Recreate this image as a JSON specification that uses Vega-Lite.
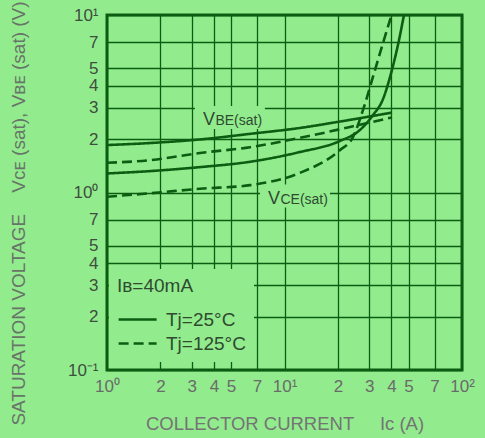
{
  "$schema": "https://vega.github.io/schema/vega-lite/v6.json",
  "width": 355,
  "height": 355,
  "autosize": {"type": "none"},
  "padding": {"left": 107, "top": 15, "right": 23, "bottom": 68},
  "background": "#92ec8e",
  "config": {
    "font": "Liberation Sans",
    "view": {"stroke": "#0c5c12", "strokeWidth": 3}
  },
  "datasets": {
    "curves": [
      {"series": "VBE 25", "Tj": "Tj=25°C", "Ic": 1, "V": 1.85},
      {"series": "VBE 25", "Tj": "Tj=25°C", "Ic": 1.75, "V": 1.9},
      {"series": "VBE 25", "Tj": "Tj=25°C", "Ic": 3.34, "V": 1.99},
      {"series": "VBE 25", "Tj": "Tj=25°C", "Ic": 6.4, "V": 2.14},
      {"series": "VBE 25", "Tj": "Tj=25°C", "Ic": 12.2, "V": 2.31},
      {"series": "VBE 25", "Tj": "Tj=25°C", "Ic": 20.5, "V": 2.51},
      {"series": "VBE 25", "Tj": "Tj=25°C", "Ic": 40.3, "V": 2.82},
      {"series": "VBE 125", "Tj": "Tj=125°C", "Ic": 1, "V": 1.47},
      {"series": "VBE 125", "Tj": "Tj=125°C", "Ic": 1.75, "V": 1.52},
      {"series": "VBE 125", "Tj": "Tj=125°C", "Ic": 3.34, "V": 1.67},
      {"series": "VBE 125", "Tj": "Tj=125°C", "Ic": 6.4, "V": 1.8},
      {"series": "VBE 125", "Tj": "Tj=125°C", "Ic": 12.2, "V": 2.03},
      {"series": "VBE 125", "Tj": "Tj=125°C", "Ic": 23.4, "V": 2.34},
      {"series": "VBE 125", "Tj": "Tj=125°C", "Ic": 40.3, "V": 2.65},
      {"series": "VCE 25", "Tj": "Tj=25°C", "Ic": 1, "V": 1.28},
      {"series": "VCE 25", "Tj": "Tj=25°C", "Ic": 1.75, "V": 1.32},
      {"series": "VCE 25", "Tj": "Tj=25°C", "Ic": 3.34, "V": 1.39},
      {"series": "VCE 25", "Tj": "Tj=25°C", "Ic": 6.4, "V": 1.49},
      {"series": "VCE 25", "Tj": "Tj=25°C", "Ic": 12.2, "V": 1.69},
      {"series": "VCE 25", "Tj": "Tj=25°C", "Ic": 20.5, "V": 1.95},
      {"series": "VCE 25", "Tj": "Tj=25°C", "Ic": 26.6, "V": 2.25},
      {"series": "VCE 25", "Tj": "Tj=25°C", "Ic": 31.5, "V": 2.73},
      {"series": "VCE 25", "Tj": "Tj=25°C", "Ic": 35.7, "V": 3.32},
      {"series": "VCE 25", "Tj": "Tj=25°C", "Ic": 40.3, "V": 4.9},
      {"series": "VCE 25", "Tj": "Tj=25°C", "Ic": 43.8, "V": 6.95},
      {"series": "VCE 25", "Tj": "Tj=25°C", "Ic": 47.1, "V": 10},
      {"series": "VCE 125", "Tj": "Tj=125°C", "Ic": 1, "V": 0.947},
      {"series": "VCE 125", "Tj": "Tj=125°C", "Ic": 1.75, "V": 0.99},
      {"series": "VCE 125", "Tj": "Tj=125°C", "Ic": 3.34, "V": 1.05},
      {"series": "VCE 125", "Tj": "Tj=125°C", "Ic": 6.4, "V": 1.1},
      {"series": "VCE 125", "Tj": "Tj=125°C", "Ic": 12.2, "V": 1.29},
      {"series": "VCE 125", "Tj": "Tj=125°C", "Ic": 20.5, "V": 1.73},
      {"series": "VCE 125", "Tj": "Tj=125°C", "Ic": 24.3, "V": 2.05},
      {"series": "VCE 125", "Tj": "Tj=125°C", "Ic": 27.7, "V": 2.92},
      {"series": "VCE 125", "Tj": "Tj=125°C", "Ic": 31.5, "V": 4.48},
      {"series": "VCE 125", "Tj": "Tj=125°C", "Ic": 35.9, "V": 6.96},
      {"series": "VCE 125", "Tj": "Tj=125°C", "Ic": 40.1, "V": 10}
    ],
    "labels": [
      {"Ic": 3.47, "V": 2.4, "main": "V", "sub": "BE(sat)"},
      {"Ic": 8.07, "V": 0.867, "main": "V", "sub": "CE(sat)"}
    ]
  },
  "encoding": {
    "x": {
      "field": "Ic",
      "type": "quantitative",
      "scale": {"type": "log", "domain": [1, 100], "nice": false},
      "axis": {
        "values": [1, 2, 3, 4, 5, 7, 10, 20, 30, 40, 50, 70, 100],
        "labelExpr": "datum.value == 1 ? '10\u2070' : datum.value == 10 ? '10\u00b9' : datum.value == 100 ? '10\u00b2' : format(datum.value >= 10 ? datum.value / 10 : datum.value, 'd')",
        "grid": true,
        "gridColor": "#0c5c12",
        "gridWidth": 1.3,
        "gridOpacity": 1,
        "ticks": false,
        "domain": false,
        "labelFontSize": 17,
        "labelColor": "#6a6a6a",
        "labelPadding": 8,
        "labelOverlap": false,
        "labelFlush": false,
        "labelBound": false,
        "title": "COLLECTOR CURRENT\u00a0\u00a0\u00a0\u00a0 I\u1d04 (A)",
        "titleFontSize": 18.5,
        "titleFontWeight": "normal",
        "titleColor": "#747474",
        "titleY": 53,
        "titleBaseline": "middle"
      }
    },
    "y": {
      "field": "V",
      "type": "quantitative",
      "scale": {"type": "log", "domain": [0.1, 10], "nice": false},
      "axis": {
        "values": [0.1, 0.2, 0.3, 0.4, 0.5, 0.7, 1, 2, 3, 4, 5, 7, 10],
        "labelExpr": "datum.value == 0.1 ? '10\u207b\u00b9' : datum.value == 1 ? '10\u2070' : datum.value == 10 ? '10\u00b9' : format(datum.value < 1 ? datum.value * 10 : datum.value, 'd')",
        "grid": true,
        "gridColor": "#0c5c12",
        "gridWidth": 1.3,
        "gridOpacity": 1,
        "ticks": false,
        "domain": false,
        "labelFontSize": 17,
        "labelColor": "#3e4e3e",
        "labelPadding": 9,
        "labelOverlap": false,
        "labelFlush": false,
        "labelBound": false,
        "title": "SATURATION VOLTAGE\u00a0\u00a0\u00a0 V\u1d04\u1d07 (sat), V\u0299\u1d07 (sat) (V)",
        "titleFontSize": 19,
        "titleFontWeight": "normal",
        "titleColor": "#687468",
        "titleX": -89,
        "titleY": 198,
        "titleAlign": "center",
        "titleBaseline": "middle"
      }
    }
  },
  "layer": [
    {
      "data": {"name": "labels"},
      "mark": {"type": "point", "shape": "M-0.8,-1.9H6.2V0.4H-0.8Z", "size": 400, "filled": true, "color": "#92ec8e", "opacity": 1, "strokeWidth": 0}
    },
    {
      "data": {"name": "curves"},
      "mark": {"type": "line", "interpolate": "monotone", "color": "#0c5c12", "strokeWidth": 2.6},
      "encoding": {
        "detail": {"field": "series", "type": "nominal"},
        "strokeDash": {
          "field": "Tj",
          "type": "nominal",
          "scale": {"domain": ["Tj=25°C", "Tj=125°C"], "range": [[1, 0], [10, 5]]},
          "legend": {
            "orient": "none",
            "legendX": 2,
            "legendY": 254,
            "title": "I\u0299=40mA",
            "titleFontSize": 19,
            "titleFontWeight": "normal",
            "titleColor": "#2f4a2f",
            "titlePadding": 10,
            "labelFontSize": 19,
            "labelColor": "#2f4a2f",
            "symbolType": "M-1,0H2.2",
            "symbolSize": 564,
            "symbolStrokeWidth": 2.6,
            "symbolStrokeColor": "#0c5c12",
            "symbolFillColor": "transparent",
            "labelOffset": 22,
            "rowPadding": 0,
            "padding": 8,
            "fillColor": "#92ec8e"
          }
        }
      }
    },
    {
      "data": {"name": "labels"},
      "mark": {"type": "text", "align": "left", "baseline": "alphabetic", "fontSize": 18, "color": "#2f4a2f"},
      "encoding": {"text": {"field": "main", "type": "nominal"}}
    },
    {
      "data": {"name": "labels"},
      "mark": {"type": "text", "align": "left", "baseline": "alphabetic", "fontSize": 14, "dx": 12.5, "color": "#2f4a2f"},
      "encoding": {"text": {"field": "sub", "type": "nominal"}}
    }
  ]
}
